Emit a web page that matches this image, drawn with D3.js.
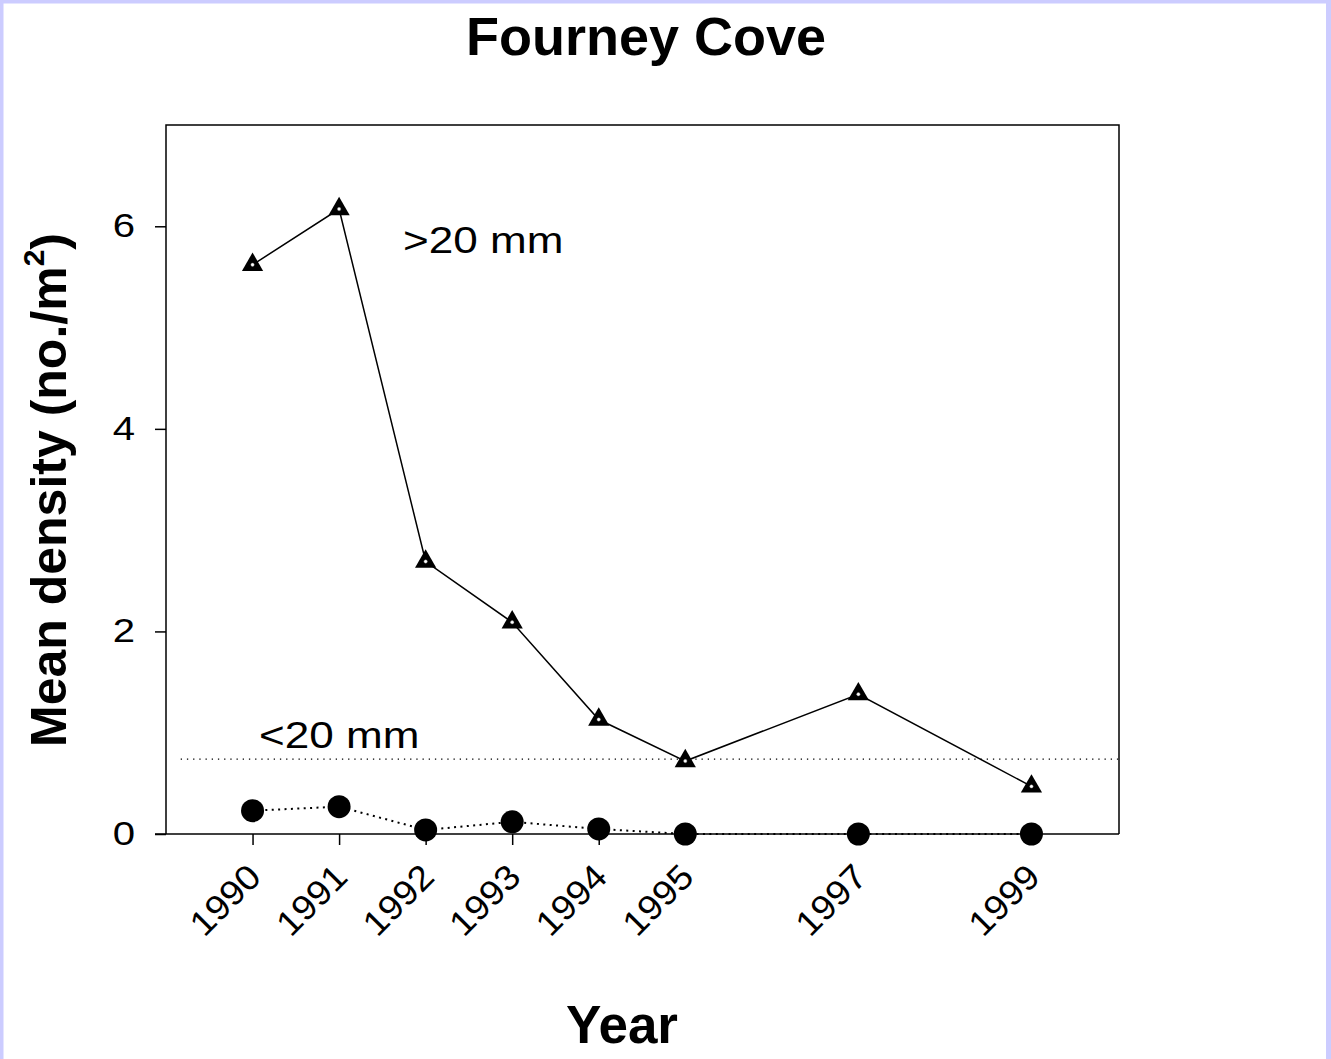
<!DOCTYPE html>
<html>
<head>
<meta charset="utf-8">
<script src="https://cdn.jsdelivr.net/npm/d3@7"></script>
<style>
html, body { margin: 0; padding: 0; background: #ffffff; }
svg { display: block; }
text { font-family: "Liberation Sans", Arial, sans-serif; fill: #000; }
</style>
</head>
<body>
<script>
// ---- data ----
const years = [1990, 1991, 1992, 1993, 1994, 1995, 1997, 1999];
const large = [5.62, 6.17, 2.69, 2.09, 1.13, 0.72, 1.38, 0.47];   // >20 mm
const small = [0.23, 0.27, 0.04, 0.12, 0.05, 0.00, 0.00, 0.00];   // <20 mm
const refLine = 0.74;
const yTicks = [0, 2, 4, 6];
const titleText = "Fourney Cove";
const xTitle = "Year";
const labelLarge = ">20 mm";
const labelSmall = "<20 mm";

(function () {
const W = 1331, H = 1059;
const svg = d3.select("body").append("svg").attr("width", W).attr("height", H);
const SX = 1.18; // horizontal stretch of regular-weight text in the reference

// border
svg.append("rect").attr("x", 0).attr("y", 0).attr("width", W).attr("height", 3.5).attr("fill", "#ccccff");
svg.append("rect").attr("x", 0).attr("y", 0).attr("width", 3.5).attr("height", H).attr("fill", "#ccccff");
svg.append("rect").attr("x", 1326).attr("y", 0).attr("width", 5).attr("height", H).attr("fill", "#ccccff");

const pL = 166, pR = 1119, pT = 125, pB = 834;
const x = d3.scaleLinear().domain([1989, 2000]).range([pL, 1118]);
const y = d3.scaleLinear().domain([0, 7]).range([pB, pT]);

// frame
svg.append("path")
  .attr("d", `M${pL},${pB}V${pT}H${pR}V${pB}`)
  .attr("fill", "none").attr("stroke", "#000").attr("stroke-width", 1.5);
svg.append("line").attr("x1", pL - 11).attr("x2", pR).attr("y1", pB).attr("y2", pB)
  .attr("stroke", "#000").attr("stroke-width", 1.5);

// y axis
const yAxis = svg.append("g").attr("transform", `translate(${pL},0)`)
  .call(d3.axisLeft(y).tickValues(yTicks).tickSize(11).tickSizeOuter(0).tickPadding(20).tickFormat(d3.format("d")));
yAxis.select(".domain").remove();
yAxis.selectAll("line").attr("stroke", "#000").attr("stroke-width", 1.5);
yAxis.selectAll("text").attr("font-size", 34).attr("font-family", "Liberation Sans, Arial, sans-serif")
  .attr("dy", "0.3em").attr("x", -31 / SX).attr("transform", `scale(${SX},1)`);

// x axis
const xAxis = svg.append("g").attr("transform", `translate(0,${pB})`)
  .call(d3.axisBottom(x).tickValues(years).tickSize(11).tickSizeOuter(0).tickFormat(d3.format("d")));
xAxis.select(".domain").remove();
xAxis.selectAll("line").attr("stroke", "#000").attr("stroke-width", 1.5);
xAxis.selectAll("text")
  .attr("font-size", 35).attr("font-family", "Liberation Sans, Arial, sans-serif")
  .attr("text-anchor", "end").attr("dy", null).attr("y", null)
  .attr("transform", "translate(10,45) rotate(-45) scale(1.07,1)");

// reference dotted line
svg.append("line").attr("x1", x(1989.17)).attr("x2", x(2000)).attr("y1", y(refLine)).attr("y2", y(refLine))
  .attr("stroke", "#000").attr("stroke-width", 1.3).attr("stroke-dasharray", "1.3,4.9");

// series
const lineGen = d3.line().x(d => x(d[0])).y(d => y(d[1]));
const smallData = years.map((yr, i) => [yr, small[i]]);
const largeData = years.map((yr, i) => [yr, large[i]]);

svg.append("path").datum(smallData).attr("d", lineGen)
  .attr("fill", "none").attr("stroke", "#000").attr("stroke-width", 2).attr("stroke-dasharray", "2,4.4");

svg.append("path").datum(largeData).attr("d", lineGen)
  .attr("fill", "none").attr("stroke", "#000").attr("stroke-width", 1.5);

svg.selectAll("circle.small").data(smallData).enter().append("circle")
  .attr("class", "small").attr("cx", d => x(d[0])).attr("cy", d => y(d[1])).attr("r", 11.5).attr("fill", "#000");

const tri = d3.symbol().type(d3.symbolTriangle).size(195);
const tg = svg.selectAll("g.tri").data(largeData).enter().append("g")
  .attr("class", "tri").attr("transform", d => `translate(${x(d[0])},${y(d[1])})`);
tg.append("path").attr("d", tri).attr("fill", "#000");
tg.append("circle").attr("r", 1.7).attr("fill", "#fff").attr("stroke", "#888").attr("stroke-width", 0.4);

// labels
svg.append("text").attr("transform", `translate(403,253) scale(${SX * 1.01},1)`).attr("font-size", 37).text(labelLarge);
svg.append("text").attr("transform", `translate(259,748) scale(${SX * 1.01},1)`).attr("font-size", 37).text(labelSmall);

// titles
svg.append("text").attr("x", 646).attr("y", 55).attr("text-anchor", "middle")
  .attr("font-size", 54).attr("font-weight", "bold").text(titleText);
svg.append("text").attr("x", 622).attr("y", 1043).attr("text-anchor", "middle")
  .attr("font-size", 53).attr("font-weight", "bold").text(xTitle);

const yt = svg.append("text").attr("transform", "translate(66,490) rotate(-90)")
  .attr("text-anchor", "middle").attr("font-size", 50).attr("font-weight", "bold");
yt.append("tspan").text("Mean density (no./m");
yt.append("tspan").attr("font-size", 30).attr("dy", -22).text("2");
yt.append("tspan").attr("dy", 22).text(")");
})();
</script>
</body>
</html>
